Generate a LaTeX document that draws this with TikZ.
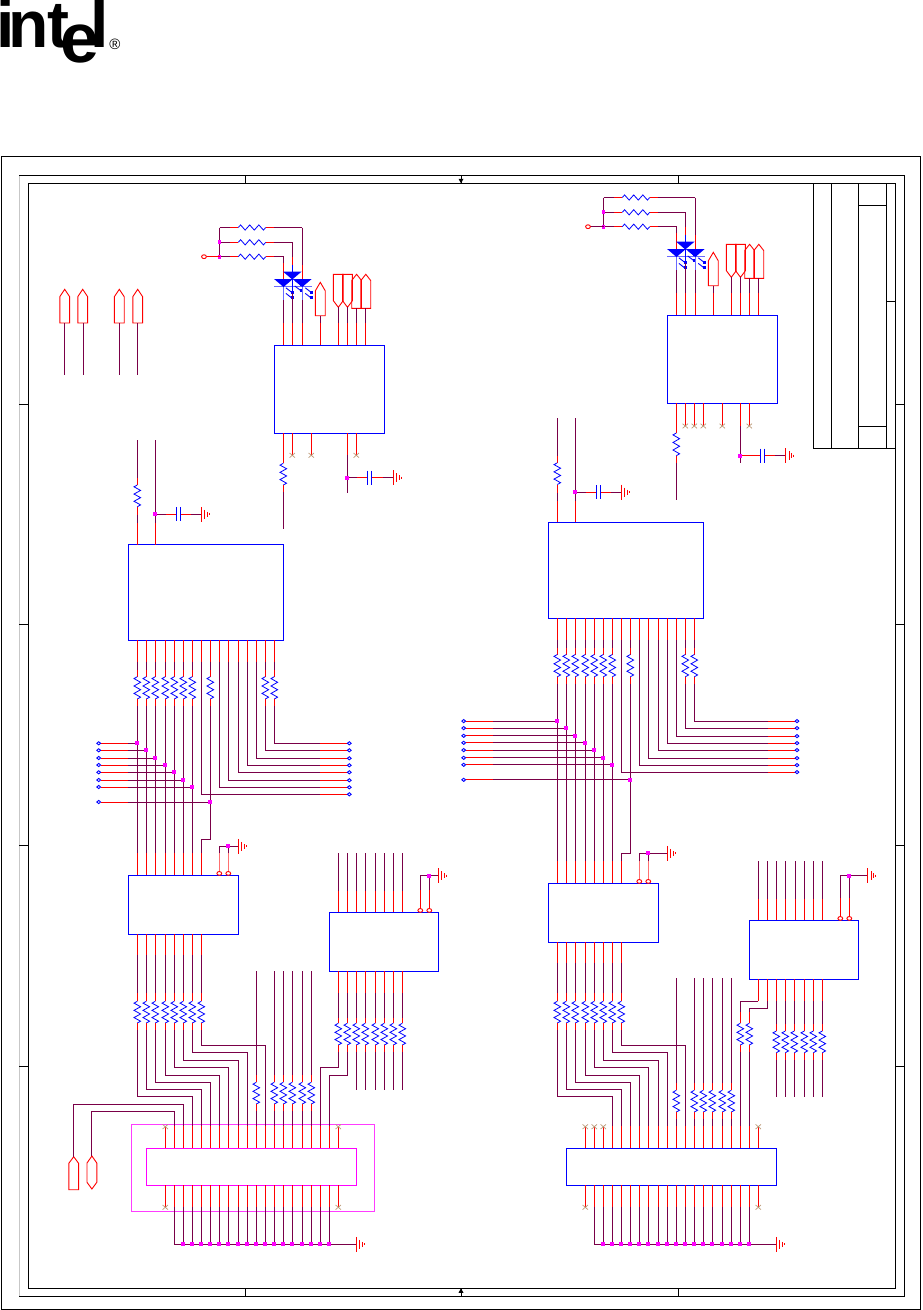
\documentclass[tikz,border=0pt]{standalone}
\usepackage{fontspec}
\setmainfont{Liberation Sans}
\definecolor{wirep}{HTML}{7A0048}
\definecolor{xtan}{HTML}{BC9A78}
\definecolor{ltblue}{HTML}{6A6AFF}
\definecolor{pink}{HTML}{FF7070}
\definecolor{mag}{RGB}{255,0,255}
\definecolor{magl}{RGB}{255,60,255}
\definecolor{red}{RGB}{255,0,0}
\definecolor{blue}{RGB}{0,0,255}
\tikzset{
  wp/.style={draw=wirep,line width=.95pt},
  wr/.style={draw=red,line width=.95pt},
  wk/.style={draw=black,line width=.95pt},
  res/.style={draw=blue,line width=.8pt,line join=miter},
  chipb/.style={draw=blue,line width=1pt,inner sep=0pt,outer sep=0pt,anchor=north west},
  chipm/.style={draw=mag,line width=1pt,inner sep=0pt,outer sep=0pt,anchor=north west},
  chipo/.style={draw=magl,line width=.8pt,inner sep=0pt,outer sep=0pt,anchor=north west},
  pent/.style={draw=red,line width=.9pt},
  logo/.style={inner sep=0pt,outer sep=0pt,anchor=base west,font=\bfseries\fontsize{66}{66}\selectfont},
}
\newcommand\chipbox[6]{\pgfmathsetmacro\cbW{(#5)-(#3)}\pgfmathsetmacro\cbH{(#6)-(#4)}\node[#2,minimum width=\cbW pt,minimum height=\cbH pt] (#1) at (#3,#4) {};}
\newcommand\rsV[3]{\pgfmathsetmacro\rsS{((#3)-(#2))/12}\draw[res] (#1,#2) -- ++(-3.3,\rsS) -- ++(6.6,2*\rsS) -- ++(-6.6,2*\rsS) -- ++(6.6,2*\rsS) -- ++(-6.6,2*\rsS) -- ++(6.6,2*\rsS) -- ++(-3.3,\rsS);}
\newcommand\rsH[3]{\pgfmathsetmacro\rsS{((#2)-(#1))/12}\draw[res] (#1,#3) -- ++(\rsS,-2.6) -- ++(2*\rsS,5.2) -- ++(2*\rsS,-5.2) -- ++(2*\rsS,5.2) -- ++(2*\rsS,-5.2) -- ++(2*\rsS,5.2) -- ++(\rsS,-2.6);}
\newcommand\gndm[2]{\draw[wr] (#1,#2-7.5) -- (#1,#2+7.5) (#1+3.3,#2-4.5) -- (#1+3.3,#2+4.5) (#1+6,#2-2.5) -- (#1+6,#2+2.5) (#1+8,#2-1) -- (#1+8,#2+1);}
\newcommand\capm[2]{\draw[draw=blue,line width=1pt] (#1,#2-7) -- (#1,#2+7) (#1+3.8,#2-7) -- (#1+3.8,#2+7);}
\newcommand\xmk[2]{\draw[draw=xtan,line width=.7pt] (#1-2.7,#2-2.3) -- (#1+2.7,#2+2.3) (#1-2.7,#2+2.3) -- (#1+2.7,#2-2.3);}
\newcommand\jn[2]{\fill[mag] (#1-1.9,#2-1.9) rectangle (#1+1.9,#2+1.9);}
\newcommand\tmB[2]{\draw[draw=blue,line width=.9pt,fill=white] (#1,#2) ellipse (1.9pt and 1.6pt);}
\newcommand\tmR[2]{\draw[draw=red,line width=.9pt,fill=white] (#1,#2) ellipse (2.4pt and 1.9pt);}
\newcommand\pentU[4]{\draw[pent] (#1-4.9,#4) -- (#1-4.9,#3) -- (#1,#2) -- (#1+4.9,#3) -- (#1+4.9,#4) -- cycle;}
\newcommand\pentD[4]{\draw[pent] (#1-4.9,#2) -- (#1-4.9,#3) -- (#1,#4) -- (#1+4.9,#3) -- (#1+4.9,#2) -- cycle;}
\newcommand\ledm[3]{%
 \fill[blue] (#1-9.4,#2) -- (#1+9.4,#2) -- (#1,#2+8) -- cycle;
 \foreach \q in {0,1}{\draw[draw=blue,line width=.9pt] (#1+#3,#2+8.8+\q*5.6) -- ++(6.4,5); \fill[blue] (#1+#3+4.8,#2+11.8+\q*5.6) rectangle ++(2.8,2.8);}
}
% ---- LED and input group; #1 = extra x shift of the three resistors
\newcommand\LedGroup[2]{%
 \chipbox{led#2}{chipb}{274.4}{345.4}{384.4}{433.3}
 \foreach \y/\xe in {227.5/302.3,242.3/292.3,256.7/283.5}{
  \draw[wp] ({219.5+#1},\y) -- ({230+#1},\y);
  \draw[wr] ({230+#1},\y) -- ({238.3+#1},\y);
  \rsH{238.3+#1}{265.7+#1}{\y}
  \draw[wr] ({265.7+#1},\y) -- ({274+#1},\y);
  \draw[wp] ({274+#1},\y) -- (\xe,\y);
 }
 \draw[wp] ({219.5+#1},227.5) -- ({219.5+#1},256.7);
 \jn{219.5+#1}{242.3}\jn{219.5+#1}{256.7}
 \draw[wp] (302.3,227.5) -- (302.3,265); \draw[wr] (302.3,265) -- (302.3,279);
 \draw[wp] (292.3,242.3) -- (292.3,257); \draw[wr] (292.3,257) -- (292.3,265);
 \draw[draw=blue,line width=.95pt] (292.3,265) -- (292.3,272);
 \draw[wp] (283.5,256.7) -- (283.5,263); \draw[wr] (283.5,263) -- (283.5,279);
 \draw[draw=ltblue,line width=1.1pt] (283.5,286) -- (283.5,300) (302.3,286) -- (302.3,300) (274,286.3) -- (312,286.3) (283.5,279.3) -- (302.3,279.3);
 \draw[draw=blue,line width=.9pt] (292.3,279) -- (292.3,293);
 \ledm{292.3}{271.5}{2.4}\ledm{283.5}{279}{2.4}\ledm{302.3}{279}{3}
 \draw[wp] (283.5,300) -- (283.5,323) (302.3,300) -- (302.3,323) (292.3,293) -- (292.3,323);
 \foreach \x in {283.5,292.3,302.3}{\draw[wr] (\x,323) -- (\x,0 |- led#2.north);}
 \pentU{320.3}{282.3}{290.7}{315.7}
 \pentD{338.3}{274.3}{300.7}{307.3}\pentD{347.5}{274.3}{300.7}{307.3}
 \pentU{356.6}{274.3}{280.5}{308.3}\pentU{365.8}{274.3}{280.5}{308.3}
 \draw[wp] (320.3,315.7) -- (320.3,323) (338.3,307.3) -- (338.3,323) (347.3,307.3) -- (347.3,323) (356.3,308.3) -- (356.3,323) (365.3,308.3) -- (365.3,323);
 \foreach \x in {320.3,338.3,347.3,356.3,365.3}{\draw[wr] (\x,323) -- (\x,0 |- led#2.north);}
}
% ---- big chip, pull-ups, terminals and buffer
\newcommand\MidGroup[1]{%
 \begin{scope}[shift={(#1,0)}]
 \chipbox{big#1}{chipb}{128.5}{544.5+\dU}{283.5}{640.3+\dU}
 \chipbox{buf#1}{chipb}{128.4}{875.3+\dL}{238.4}{934.3+\dL}
 \draw[wp] (137.3,440.3+\dU) -- (137.3,478+\dU);
 \draw[wr] (137.3,478+\dU) -- (137.3,485+\dU);
 \rsV{137.3}{485+\dU}{506.7+\dU}
 \draw[wr] (137.3,506.7+\dU) -- (137.3,515+\dU);
 \draw[wp] (137.3,515+\dU) -- (137.3,523+\dU);
 \draw[wr] (137.3,523+\dU) -- (137.3,0 |- big#1.north);
 \draw[wp] (155.3,440.3+\dU) -- (155.3,523+\dU);
 \draw[wr] (155.3,523+\dU) -- (155.3,0 |- big#1.north);
 \draw[wp] (155.3,514.3+\dU) -- (166,514.3+\dU);
 \draw[wr] (166,514.3+\dU) -- (176.7,514.3+\dU);
 \capm{176.7}{514.3+\dU}
 \draw[wr] (180.5,514.3+\dU) -- (191,514.3+\dU);
 \draw[wp] (191,514.3+\dU) -- (201.3,514.3+\dU);
 \jn{155.3}{514.3+\dU}
 \gndm{201.3}{514.3+\dU}
 \foreach \x in {137.3,146.3,155.3,165.3,174.3,183.3,192.3,210.3,265.3,274.3}{
  \draw[wr] (\x,0 |- big#1.south) -- (\x,661.7+\dU);
  \draw[wp] (\x,661.7+\dU) -- (\x,670+\dU);
  \draw[wr] (\x,670+\dU) -- (\x,676.7+\dU);
  \rsV{\x}{676.7+\dU}{699+\dU}
  \draw[wr] (\x,699+\dU) -- (\x,706+\dU);
 }
 \foreach \x in {201.3,219.3,228.3,238.3,247.3,256.3}{
  \draw[wr] (\x,0 |- big#1.south) -- (\x,661.7+\dU);
 }
 \foreach \x/\y in {137.3/743.3,146.3/750.3,155.3/758,165.3/765,174.3/772.3,183.3/780,192.3/787,210.3/802}{
  \draw[wr] (\ltx+2,\y+\dU) -- (\lre,\y+\dU);
  \draw[wp] (\lre,\y+\dU) -- (\x,\y+\dU);
  \tmB{\ltx}{\y+\dU}
 }
 \foreach \x in {137.3,146.3,155.3,165.3,174.3,183.3,192.3}{
  \draw[wp] (\x,706+\dU) -- (\x,853.3+\dL);
  \draw[wr] (\x,853.3+\dL) -- (\x,0 |- buf#1.north);
 }
 \draw[wp] (210.3,706+\dU) -- (210.3,\jogY) -- (201.3,\jogY) -- (201.3,853.3+\dL);
 \draw[wr] (201.3,853.3+\dL) -- (201.3,0 |- buf#1.north);
 \foreach \x/\y/\s in {274.3/743.3/706,265.3/750.3/706,256.3/758.3/661.7,247.3/765.3/661.7,238.3/772.3/661.7,228.3/780.3/661.7,219.3/787.3/661.7,201.3/794.3/661.7}{
  \draw[wp] (\x,\s+\dU) -- (\x,\y+\dU) -- (\rrs,\y+\dU);
  \draw[wr] (\rrs,\y+\dU) -- (\rtx-2,\y+\dU);
  \tmB{\rtx}{\y+\dU}
 }
 \foreach \x/\y in {137.3/743.3,146.3/750.3,155.3/758,165.3/765,174.3/772.3,183.3/780,192.3/787,210.3/802}{
  \jn{\x}{\y+\dU}
 }
 \foreach \x in {219.3,228.3}{
  \draw[draw=pink,line width=1pt] (\x,871.5+\dL) -- (\x,853.3+\dL);
  \draw[wp] (\x,853.3+\dL) -- (\x,\gY);
  \tmR{\x}{873.4+\dL}
 }
 \draw[wp] (219.3,\gY) -- (\gX,\gY);
 \jn{228.3}{\gY}
 \gndm{\gX}{\gY}
 % buffer lower side and routing
 \foreach \x in {137.3,146.3,155.3,165.3,174.3,183.3,192.3,201.3}{
  \draw[wr] (\x,0 |- buf#1.south) -- (\x,\bRed);
  \draw[wp] (\x,\bRed) -- (\x,993.3);
  \draw[wr] (\x,993.3) -- (\x,1001.3);
  \rsV{\x}{1001.3}{1023}
  \draw[wr] (\x,1023) -- (\x,1030);
 }
 \foreach \a/\y/\b in {137.3/1096.3/192.3,146.3/1089.3/201.3,155.3/1082.3/210.3,165.3/1075.3/219.3,174.3/1067.3/228.3,183.3/1060.3/238.3,192.3/1052.3/247.3,201.3/1045.3/265.3}{
  \draw[wp] (\a,1030) -- (\a,\y) -- (\b,\y) -- (\b,1126);
 }
 \foreach \x in {256.3,274.3,283.3,292.3,302.3,311.3}{
  \draw[wp] (\x,\sT) -- (\x,1075+\sR);
  \draw[wr] (\x,1075+\sR) -- (\x,1082.3+\sR);
  \rsV{\x}{1082.3+\sR}{1104+\sR}
  \draw[wr] (\x,1104+\sR) -- (\x,1111+\sR);
  \draw[wp] (\x,1111+\sR) -- (\x,1126);
 }
 \end{scope}
}
% ---- 2nd buffer top side
\newcommand\BufTwo[1]{%
 \begin{scope}[shift={(#1,0)}]
 \chipbox{bt#1}{chipb}{329.4}{912.3+\dL}{438.7}{971.3+\dL}
 \foreach \x in {338.3,347.3,356.3,365.3,375.3,384.3,393.3,402.3}{
  \draw[wp] (\x,853.3+\dL) -- (\x,890.7+\dL);
  \draw[wr] (\x,890.7+\dL) -- (\x,0 |- bt#1.north);
 }
 \foreach \x in {420.3,429.3}{
  \draw[wr] (\x,908.7+\dL) -- (\x,890+\dL);
  \draw[wp] (\x,890+\dL) -- (\x,875.7);
  \tmR{\x}{910.4+\dL}
 }
 \draw[wp] (420.3,875.7) -- (\gXX,875.7);
 \jn{429.3}{875.7}
 \gndm{\gXX}{875.7}
 \end{scope}
}
% ---- connector pin rows
\newcommand\ConnPins[2]{%
 \begin{scope}[shift={(#1,0)}]
 \chipbox{con#1}{#2}{146.4}{1148.3}{356.4}{1185.3}
 \foreach \x in {192.3,201.3,210.3,219.3,228.3,238.3,247.3,256.3,265.3,274.3,283.3,292.3,302.3,311.3,320.3,329.3}{
  \draw[wr] (\x,1126) -- (\x,0 |- con#1.north);
 }
 \foreach \x in {174.3,183.3,192.3,201.3,210.3,219.3,228.3,238.3,247.3,256.3,265.3,274.3,283.3,292.3,302.3,311.3,320.3,329.3}{
  \draw[wr] (\x,0 |- con#1.south) -- (\x,1206.7);
  \draw[wp] (\x,1206.7) -- (\x,1244.3);
 }
 \draw[wp] (174.3,1244.3) -- (356.3,1244.3);
 \foreach \x in {183.3,192.3,201.3,210.3,219.3,228.3,238.3,247.3,256.3,265.3,274.3,283.3,292.3,302.3,311.3,320.3,329.3}{\jn{\x}{1244.3}}
 \gndm{356.3}{1244.3}
 \draw[wr] (165.3,1207) -- (165.3,0 |- con#1.south) (338.3,1207) -- (338.3,0 |- con#1.south) (338.3,1126.7) -- (338.3,0 |- con#1.north) (165.3,1126.7) -- (165.3,0 |- con#1.north);
 \xmk{165.3}{1207.3}\xmk{338.3}{1207.3}\xmk{338.3}{1126.7}\xmk{165.3}{1126.7}
 \end{scope}
}
\begin{document}
\begin{tikzpicture}[x=1pt,y=-1pt]
\useasboundingbox (0,0) rectangle (922,1310);
% logo
\node[logo] (li) at (-3.6,47.5) {i};
\node[logo] (ln) at (8.7,47.5) {n};
\node[logo] (lt) at (47,47.5) {t};
\node[logo,scale=1.06] (le) at (60,62) {e};
\node[logo] (ll) at (90.4,47.5) {l};
\node[inner sep=0pt,font=\fontsize{15}{15}\selectfont] (lr) at (115,44.5) {®};
% frame
\draw[wk] (1.5,156) rectangle (920.3,1309.3);
\draw[draw=black!22,line width=.95pt] (19,175.3) -- (19,1296.3);
\draw[wk] (19,175.3) -- (904,175.3) -- (904,1296.3) -- (19,1296.3);
\draw[wk] (28.5,183.3) rectangle (895.5,1288.3);
\foreach \x in {245,678}{\draw[wk] (\x,175.3) -- (\x,183.3) (\x,1288.3) -- (\x,1296.3);}
\foreach \y in {404.3,624.3,845.3,1066.5}{\draw[wk] (19,\y) -- (28.5,\y) (895.5,\y) -- (904,\y);}
\draw[wk] (461,175.3) -- (461,183.3);
\fill (458.5,178.8) -- (463.5,178.8) -- (461,183.3) -- cycle;
\draw[wk] (461,1288.3) -- (461,1296.3);
\fill (458.5,1292.8) -- (463.5,1292.8) -- (461,1288.3) -- cycle;
% title block
\draw[wk] (813.3,183.3) -- (813.3,448.3) -- (895.5,448.3);
\draw[wk] (831.7,183.3) -- (831.7,448.3) (858.3,183.3) -- (858.3,448.3) (886.7,183.3) -- (886.7,448.3);
\draw[wk] (858.3,205.3) -- (886.7,205.3) (858.3,426.3) -- (886.7,426.3) (886.7,301.3) -- (895.5,301.3);
% four loose connectors
\foreach \x/\c in {64.3/64.7,83.3/82.7,119.3/119.3,137.3/137.7}{
 \pentU{\c}{289.3}{296.7}{323}
 \draw[wp] (\x,323) -- (\x,375);
}
% LED group, left
\LedGroup{0}{0}
\draw[wr] (206.5,256.7) -- (219.5,256.7); \tmR{204}{256.7}
\foreach \x in {292.3,311.3,356.3}{\draw[wr] (\x,0 |- led0.south) -- (\x,455); \xmk{\x}{455.3}}
\draw[wr] (283.3,0 |- led0.south) -- (283.3,463.3);
\rsV{283.3}{463.3}{485}
\draw[wr] (283.3,485) -- (283.3,491.7);
\draw[wp] (283.3,491.7) -- (283.3,529.3);
\draw[wr] (347.3,0 |- led0.south) -- (347.3,455);
\draw[wp] (347.3,455) -- (347.3,492.7);
\draw[wp] (347.3,477.7) -- (357,477.7);
\draw[wr] (357,477.7) -- (367.7,477.7);
\capm{367.9}{477.7}
\draw[wr] (372,477.7) -- (383,477.7);
\draw[wp] (383,477.7) -- (393.3,477.7);
\jn{347.3}{477.7}
\gndm{393.3}{477.7}
% LED group, right
\begin{scope}[shift={(393,-30)}]
\LedGroup{-9}{1}
\draw[wp] (197,256.7) -- (210.5,256.7);
\tmR{195}{256.7}
\end{scope}
\foreach \x in {685.3,694.3,703.3,722.3,749.3}{\draw[wr] (\x,0 |- led1.south) -- (\x,425.5); \xmk{\x}{426}}
\draw[wr] (676.3,0 |- led1.south) -- (676.3,433);
\rsV{676.3}{433}{455.7}
\draw[wr] (676.3,455.7) -- (676.3,463);
\draw[wp] (676.3,463) -- (676.3,500);
\draw[wr] (740.3,0 |- led1.south) -- (740.3,426);
\draw[wp] (740.3,426) -- (740.3,463);
\draw[wr] (740.3,455.7) -- (760.7,455.7);
\capm{760.7}{455.7}
\draw[wr] (764.5,455.7) -- (775,455.7);
\draw[wp] (775,455.7) -- (785.7,455.7);
\jn{740.3}{455.7}
\gndm{785.7}{455.7}
% connector frame (left)
\chipbox{conout}{chipo}{131.4}{1124.3}{374.3}{1211}
% mid groups
\def\dU{0}\def\dL{0}\def\ltx{98.7}\def\lre{128.3}\def\rtx{349.3}\def\rrs{320}\def\jogY{839}\def\gY{846.3}\def\gX{238.3}\def\bRed{955}\def\sT{971}\def\sR{0}
\MidGroup{0}
\def\dU{-22.2}\def\dL{8}\def\ltx{43.7}\def\lre{73.3}\def\rtx{377}\def\rrs{348.3}\def\jogY{853.3}\def\gY{853.3}\def\gX{247.3}\def\bRed{963}\def\sT{978.3}\def\sR{8}
\MidGroup{420}
\def\dL{0}\def\gXX{438.3}
\BufTwo{0}
\def\dL{8}\def\gXX{447.7}
\BufTwo{420}
\ConnPins{0}{chipm}
\ConnPins{420}{chipb}
% left buffer-2 lower side
\foreach \x in {338.3,347.3,356.3,365.3,375.3,384.3,393.3,402.3}{
 \draw[wr] (\x,0 |- bt0.south) -- (\x,993);
 \draw[wp] (\x,993) -- (\x,1018);
 \draw[wr] (\x,1018) -- (\x,1023.3);
 \rsV{\x}{1023.3}{1045}
 \draw[wr] (\x,1045) -- (\x,1052);
}
\foreach \x in {356.3,365.3,375.3,384.3,393.3,402.3}{\draw[wp] (\x,1052) -- (\x,1090);}
\draw[wp] (338.3,1052) -- (338.3,1067.3) -- (320.3,1067.3) -- (320.3,1126);
\draw[wp] (347.3,1052) -- (347.3,1075.3) -- (329.3,1075.3) -- (329.3,1126);
% left connector extras
\draw[wr] (174.3,1126) -- (174.3,0 |- con0.north) (183.3,1126) -- (183.3,0 |- con0.north);
\pentU{73.7}{1156.7}{1163.3}{1189.7}
\draw[pent] (87,1163) -- (91.9,1156) -- (96.8,1163) -- (96.8,1182.3) -- (91.9,1189) -- (87,1182.3) -- cycle;
\draw[wp] (174.3,1126) -- (174.3,1111.7) -- (91.7,1111.7) -- (91.7,1156);
\draw[wp] (183.3,1126) -- (183.3,1104.3) -- (73.5,1104.3) -- (73.5,1156.7);
% right buffer-2 lower side
\foreach \x in {776.3,785.3,794.3,804.3,813.3,822.3}{
 \draw[wr] (\x,0 |- bt420.south) -- (\x,1001.3);
 \draw[wp] (\x,1001.3) -- (\x,1024);
 \draw[wr] (\x,1024) -- (\x,1031);
 \rsV{\x}{1031}{1052.7}
 \draw[wr] (\x,1052.7) -- (\x,1060);
 \draw[wp] (\x,1060) -- (\x,1096.7);
}
\draw[wr] (758.3,0 |- bt420.south) -- (758.3,1001.3);
\draw[wr] (767.3,0 |- bt420.south) -- (767.3,1001.3);
\draw[wp] (758.3,1001.3) -- (740.3,1001.3) -- (740.3,1012);
\draw[wp] (767.3,1001.3) -- (767.3,1008.3) -- (749.3,1008.3) -- (749.3,1012);
\foreach \x in {740.3,749.3}{
 \draw[wr] (\x,1012) -- (\x,1023.3);
 \rsV{\x}{1023.3}{1045}
 \draw[wr] (\x,1045) -- (\x,1052);
 \draw[wp] (\x,1052) -- (\x,1126);
}
% right connector extras
\foreach \x in {594.3,603.3}{
 \draw[wr] (\x,1126.7) -- (\x,0 |- con420.north);
 \xmk{\x}{1126.7}
}
\end{tikzpicture}
\end{document}
